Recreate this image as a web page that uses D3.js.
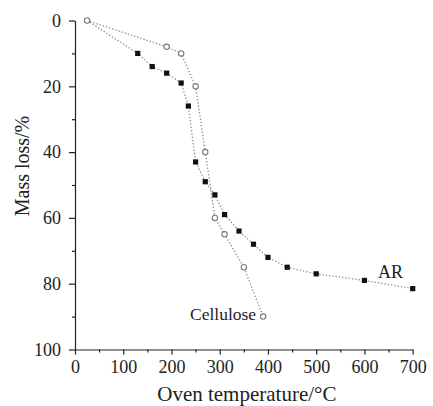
<!DOCTYPE html>
<html>
<head>
<meta charset="utf-8">
<script src="https://cdn.jsdelivr.net/npm/d3@7"></script>
<style>
  body { margin: 0; background: #fff; }
</style>
</head>
<body>
<svg id="chart"></svg>
<script>
// Cellulose series (open circles)
const celluloseTemp = [25, 190, 220, 250, 270, 290, 310, 350, 390];
const celluloseLoss = [0, 8, 10, 20, 40, 60, 65, 75, 90];

// AR series (filled squares)
const arTemp = [25, 130, 160, 190, 220, 235, 250, 270, 290, 310, 340, 370, 400, 440, 500, 600, 700];
const arLoss = [0, 10, 14, 16, 19, 26, 43, 49, 53, 59, 64, 68, 72, 75, 77, 79, 81.5];

const xTicks = [0, 100, 200, 300, 400, 500, 600, 700];
const yTicks = [0, 20, 40, 60, 80, 100];

const serif = "'Liberation Serif', 'Times New Roman', serif";
const width = 433, height = 406;
const margin = { top: 20.5, right: 20, bottom: 56.5, left: 75 };

const svg = d3.select("#chart")
              .attr("width", width)
              .attr("height", height)
              .style("font-family", serif);

const xScale = d3.scaleLinear()
                 .domain([0, 700])
                 .range([margin.left, margin.left + 337.7]);

const yScale = d3.scaleLinear()
                 .domain([0, 100])
                 .range([margin.top, height - margin.bottom]);

// minor ticks first, then the major axis on top
svg.append("g")
   .attr("transform", `translate(0, ${yScale(100)})`)
   .call(d3.axisBottom(xScale).tickValues(d3.range(50, 700, 100)).tickSize(3).tickFormat(""))
   .call(g => g.select(".domain").remove());

svg.append("g")
   .attr("transform", `translate(${margin.left}, 0)`)
   .call(d3.axisLeft(yScale).tickValues(d3.range(10, 100, 20)).tickSize(3).tickFormat(""))
   .call(g => g.select(".domain").remove());

// X axis
svg.append("g")
   .attr("transform", `translate(0, ${yScale(100)})`)
   .call(d3.axisBottom(xScale).tickValues(xTicks).tickSize(5).tickSizeOuter(0).tickPadding(6))
   .selectAll("text")
   .style("font-size", "18px");

// Y axis
svg.append("g")
   .attr("transform", `translate(${margin.left}, 0)`)
   .call(d3.axisLeft(yScale).tickValues(yTicks).tickSize(6).tickSizeOuter(0).tickPadding(8))
   .selectAll("text")
   .style("font-size", "18px");

svg.selectAll(".domain, .tick line").attr("stroke", "#222").attr("stroke-width", 1.2);
svg.selectAll("g").attr("font-family", serif);
svg.selectAll(".tick text").style("font-family", serif).style("fill", "#222");

// Axis titles
svg.append("text")
   .attr("text-anchor", "middle")
   .attr("x", (xScale(0) + xScale(700)) / 2 + 3)
   .attr("y", 401)
   .style("font-size", "21px")
   .style("fill", "#222")
   .text("Oven temperature/°C");

svg.append("text")
   .attr("text-anchor", "middle")
   .attr("transform", `translate(29, ${166}) rotate(-90)`)
   .style("font-size", "20px")
   .style("fill", "#222")
   .text("Mass loss/%");

const ar = arTemp.map((t, i) => ({ x: t, y: arLoss[i] }));
const cel = celluloseTemp.map((t, i) => ({ x: t, y: celluloseLoss[i] }));

const line = d3.line()
               .x(d => xScale(d.x))
               .y(d => yScale(d.y));

// dotted connecting lines
[ar, cel].forEach(series => {
    svg.append("path")
       .datum(series)
       .attr("d", line)
       .attr("fill", "none")
       .attr("stroke", "#8a8a8a")
       .attr("stroke-width", 1.3)
       .attr("stroke-dasharray", "1.3,2");
});

// AR squares
svg.selectAll(".sq")
   .data(ar.slice(1))
   .enter().append("rect")
   .attr("x", d => xScale(d.x) - 2.6)
   .attr("y", d => yScale(d.y) - 2.6)
   .attr("width", 5.2)
   .attr("height", 5.2)
   .attr("fill", "#111");

// Cellulose circles
svg.selectAll(".ci")
   .data(cel)
   .enter().append("circle")
   .attr("cx", d => xScale(d.x))
   .attr("cy", d => yScale(d.y))
   .attr("r", 2.7)
   .attr("fill", "#fff")
   .attr("stroke", "#7a7a7a")
   .attr("stroke-width", 1.1);

// Series labels
svg.append("text")
   .attr("x", 378)
   .attr("y", 278)
   .style("font-size", "18px")
   .style("fill", "#222")
   .text("AR");

svg.append("text")
   .attr("x", 190)
   .attr("y", 319.5)
   .style("font-size", "17.5px")
   .style("fill", "#222")
   .text("Cellulose");
</script>
</body>
</html>
